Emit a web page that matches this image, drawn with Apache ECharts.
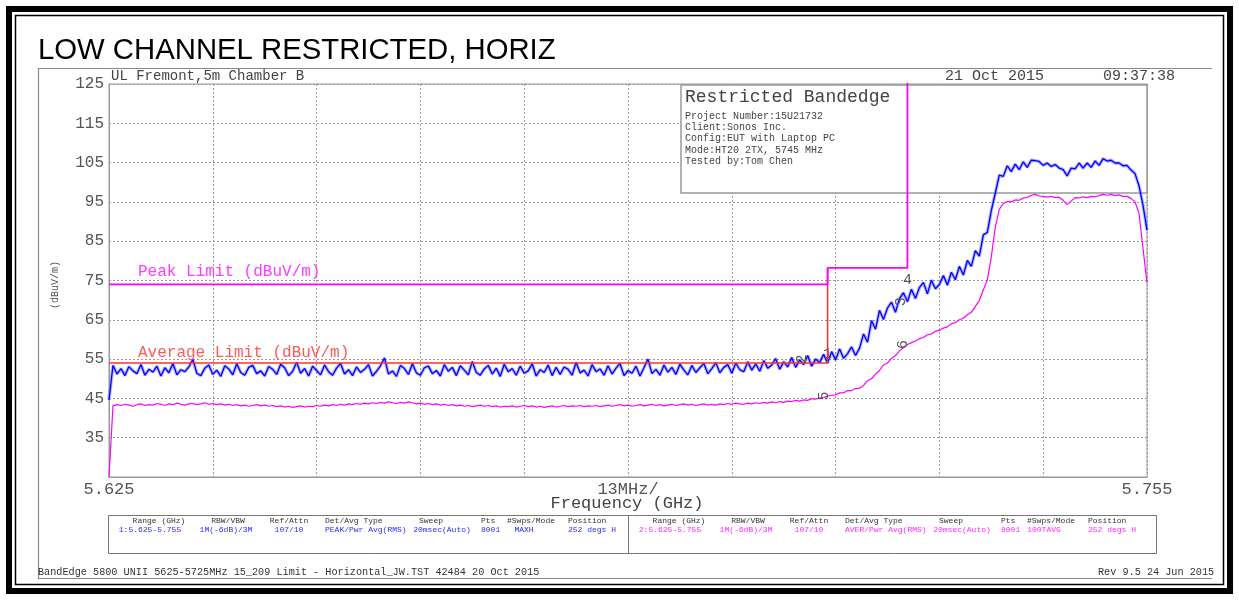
<!DOCTYPE html>
<html><head><meta charset="utf-8">
<script src="https://cdn.jsdelivr.net/npm/echarts@6/dist/echarts.min.js"></script>
<style>html,body{margin:0;padding:0;background:#fff}#c{width:1239px;height:600px}</style>
</head><body><div id="c"></div>
<script>
// ---------------- DATA ----------------
const FREQ_START_GHZ = 5.625;
const FREQ_STOP_GHZ = 5.755;
const FREQ_STEP_GHZ = 0.0005;   // sweep point spacing used for the traces below

// Trace 1: PEAK / MAXH (dBuV/m)
const PEAK_TRACE = [44.6,
53.4,51.2,52.6,50.8,53.1,52.0,51.3,53.6,50.9,52.4,51.7,53.2,50.7,52.8,51.5,53.9,51.0,52.3,51.8,53.0,
54.9,51.4,50.8,52.7,53.5,51.1,52.2,50.6,53.3,52.5,51.0,53.8,51.6,50.9,52.9,53.4,51.3,52.0,50.7,53.1,
52.4,51.1,53.7,52.8,50.8,51.9,54.2,51.4,52.6,50.7,53.2,52.1,51.0,53.5,51.8,50.9,52.7,53.9,51.2,52.3,
50.8,53.0,51.6,52.4,53.6,50.7,51.9,53.3,55.3,51.2,52.0,50.6,53.4,52.6,51.1,53.8,51.5,50.9,52.8,53.2,
51.3,52.1,50.7,53.6,51.9,52.9,50.8,53.3,52.2,51.0,54.4,51.6,50.9,52.5,53.4,51.2,52.7,50.6,53.7,51.8,
52.6,50.9,53.2,51.4,52.0,53.8,50.7,52.3,51.6,53.5,50.8,52.9,51.1,53.0,52.4,50.9,54.2,51.5,52.2,50.7,
53.6,51.8,52.5,50.9,53.3,51.2,52.7,53.9,50.8,52.1,51.4,53.2,50.7,52.8,55.0,51.3,52.4,50.9,53.5,51.7,
52.9,51.1,53.7,52.2,51.0,53.4,51.6,52.8,53.9,51.3,52.6,54.1,51.5,52.9,53.6,51.4,54.0,52.3,51.8,54.3,
52.2,53.8,51.9,54.6,52.7,53.5,55.1,52.4,54.3,53.0,55.4,52.9,54.8,53.6,55.9,53.2,55.0,54.1,56.2,54.0,
56.9,54.8,57.6,55.2,56.4,58.1,55.9,57.8,61.4,59.3,64.8,62.6,67.4,65.1,68.0,69.5,66.9,70.4,71.9,69.6,
72.8,70.4,73.2,74.5,71.6,75.1,72.9,74.0,76.3,73.8,77.1,75.2,78.6,76.4,80.1,78.6,82.6,81.2,86.6,87.2,
92.8,97.2,101.8,101.5,104.2,102.7,104.6,103.2,105.2,103.8,105.6,105.5,105.3,104.3,104.9,104.0,104.5,103.6,103.2,101.6,
103.6,103.4,104.9,103.6,104.9,103.8,105.4,104.3,106.0,105.4,105.6,104.9,104.9,104.2,104.3,103.1,102.2,99.1,94.2,87.8];

// Trace 2: AVER / 100TAVG (dBuV/m)
const AVG_TRACE = [25.0,
43.1,43.4,43.2,43.5,43.3,43.0,43.4,43.6,43.2,43.4,43.3,43.7,43.5,43.2,43.6,43.4,43.8,43.5,43.3,43.6,
43.7,43.4,43.6,43.9,43.5,43.7,43.4,43.6,43.3,43.5,43.2,43.4,43.1,43.3,43.0,43.2,43.4,43.1,43.3,43.0,
43.2,42.9,43.1,42.8,43.0,42.7,42.9,43.1,42.8,43.0,42.9,43.2,43.0,43.3,43.1,43.4,43.2,43.5,43.3,43.6,
43.4,43.7,43.5,43.8,43.6,43.9,43.7,44.0,43.8,44.1,43.9,43.7,44.0,43.8,44.1,43.9,43.6,43.8,43.5,43.7,
43.4,43.6,43.3,43.5,43.2,43.4,43.1,43.3,43.0,43.2,42.9,43.1,43.3,43.0,43.2,42.9,43.1,42.8,43.0,42.9,
43.1,42.8,43.0,43.2,42.9,43.1,42.8,43.0,42.7,42.9,43.1,42.8,43.0,43.2,42.9,43.1,43.0,43.2,42.9,43.1,
43.0,43.2,42.9,43.1,43.3,43.0,43.2,43.4,43.1,43.3,43.0,43.2,43.4,43.1,43.3,43.5,43.2,43.4,43.1,43.3,
43.5,43.2,43.4,43.6,43.3,43.5,43.2,43.4,43.6,43.3,43.5,43.3,43.6,43.4,43.7,43.5,43.8,43.6,43.5,43.8,
43.6,43.9,43.7,44.0,43.8,44.1,43.9,44.2,44.0,44.3,44.2,44.5,44.3,44.6,44.5,44.9,44.8,45.1,45.2,45.6,
45.8,45.9,46.4,46.4,47.0,47.0,47.5,47.6,48.3,49.5,50.0,51.2,52.1,53.5,54.0,55.2,55.9,57.1,57.9,58.7,
59.2,59.6,60.2,60.5,61.2,61.4,62.1,62.3,62.9,63.2,64.0,64.3,65.0,65.4,66.3,66.9,68.4,69.9,72.6,75.1,
81.0,88.6,93.1,94.6,95.1,95.0,95.5,95.4,96.0,96.1,96.7,96.9,96.5,96.4,96.2,96.4,96.1,96.2,95.4,94.3,
95.2,96.1,96.0,96.3,96.1,96.4,96.3,96.6,96.9,96.7,96.9,96.6,96.8,96.4,96.4,95.9,95.0,92.1,83.2,74.4];

// Limit lines: [frequency GHz, dBuV/m]
const PEAK_LIMIT = [[5.625,74],[5.715,74],[5.715,78.2],[5.725,78.2],[5.725,140],[5.755,140]];
const AVG_LIMIT = [[5.625,54],[5.715,54],[5.715,78.2]];

// Markers: trace, frequency (GHz), label
const MARKERS = [
  {trace:'peak', freq:5.7135, text:'2', rotate:90, dy:-14},
  {trace:'peak', freq:5.715,  text:'1', rotate:0,  dy:-9},
  {trace:'peak', freq:5.725,  text:'4', rotate:0,  dy:-22},
  {trace:'peak', freq:5.725,  text:'3', rotate:90, dy:-6},
  {trace:'avg',  freq:5.715,  text:'5', rotate:90, dy:-4},
  {trace:'avg',  freq:5.725,  text:'6', rotate:90, dy:-4}
];

const Y_MIN = 25, Y_MAX = 125, Y_STEP = 10;
const X_DIV_MHZ = 13;
const X_TICK_LABELS = ['5.625', '13MHz/', '5.755'];   // left, centre, right
const X_NAME = 'Frequency (GHz)';
const Y_NAME = '(dBuV/m)';

const TITLE = 'LOW CHANNEL RESTRICTED, HORIZ';
const SITE = 'UL Fremont,5m Chamber B';
const DATE = '21 Oct 2015';
const TIME = '09:37:38';
const INFO_TITLE = 'Restricted Bandedge';
const INFO_LINES = ['Project Number:15U21732','Client:Sonos Inc.','Config:EUT with Laptop PC','Mode:HT20 2TX, 5745 MHz','Tested by:Tom Chen'];
const PEAK_LIMIT_NAME = 'Peak Limit (dBuV/m)';
const AVG_LIMIT_NAME = 'Average Limit (dBuV/m)';
const TABLE_HEADERS = ['Range (GHz)','RBW/VBW','Ref/Attn','Det/Avg Type','Sweep','Pts','#Swps/Mode','Position'];
const TRACE1_SETTINGS = ['1:5.625-5.755','1M(-6dB)/3M','107/10','PEAK/Pwr Avg(RMS)','20msec(Auto)','8001','MAXH','252 degs H'];
const TRACE2_SETTINGS = ['2:5.625-5.755','1M(-6dB)/3M','107/10','AVER/Pwr Avg(RMS)','20msec(Auto)','8001','100TAVG','252 degs H'];
const FOOTER_LEFT = 'BandEdge 5800 UNII 5625-5725MHz 15_209 Limit - Horizontal_JW.TST 42484 20 Oct 2015';
const FOOTER_RIGHT = 'Rev 9.5 24 Jun 2015';

// ---------------- BUILD ----------------
const MONO = "'Liberation Mono','DejaVu Sans Mono',monospace";
const toAxis = f => Math.round((f - FREQ_START_GHZ) * 1e5) / 100; // MHz from start
const freqAt = i => FREQ_START_GHZ + i * FREQ_STEP_GHZ;
const peakData = PEAK_TRACE.map((v, i) => [toAxis(freqAt(i)), v]);
const avgData = AVG_TRACE.map((v, i) => [toAxis(freqAt(i)), v]);
const spanMHz = toAxis(FREQ_STOP_GHZ);

function markersFor(trace, arr) {
  return MARKERS.filter(m => m.trace === trace).map(m => {
    const idx = Math.round((m.freq - FREQ_START_GHZ) / FREQ_STEP_GHZ);
    return {coord: [toAxis(m.freq), arr[idx]],
      label: {show: true, formatter: m.text, rotate: m.rotate, offset: [0, m.dy],
              color: '#555', fontFamily: MONO, fontSize: 15}};
  });
}
const mpBase = {symbol: 'circle', symbolSize: 1, itemStyle: {color: 'rgba(0,0,0,0)'}, animation: false, silent: true};

function txt(x, y, text, size, color, align, extra) {
  return Object.assign({type: 'text', x: x, y: y, z: 10, silent: true,
    style: {text: text, font: size + 'px ' + MONO, fill: color, textAlign: align || 'left', textVerticalAlign: 'middle'}}, extra || {});
}

const graphics = [
  {type:'rect', z: 0, silent:true, shape:{x:9,y:9,width:1221,height:582}, style:{fill:'none', stroke:'#000', lineWidth:6}},
  {type:'rect', z: 0, silent:true, shape:{x:15.5,y:15.5,width:1208,height:569}, style:{fill:'none', stroke:'#000', lineWidth:1.5}},
  {type:'polyline', z: 0, silent:true, shape:{points:[[1212,68.5],[38.5,68.5],[38.5,578.5],[1212,578.5]]}, style:{fill:'none', stroke:'#888', lineWidth:1.2}},
  {type:'text', x:38, y:51, z:10, silent:true, style:{text:TITLE, font:"29.3px 'Liberation Sans',Arial,sans-serif", fill:'#000', textVerticalAlign:'middle'}},
  txt(111, 76, SITE, 14, '#444'),
  txt(945, 76, DATE, 15, '#444'),
  txt(1175, 76, TIME, 15, '#444', 'right'),
  txt(627, 503, X_NAME, 17, '#444', 'center'),
  txt(55, 285, Y_NAME, 10, '#555', 'center', {rotation: Math.PI / 2}),
  // info box
  {type:'rect', z: 1, silent:true, shape:{x:681,y:85,width:466,height:108}, style:{fill:'#fff', stroke:'#999', lineWidth:1.5}},
  txt(685, 97, INFO_TITLE, 18, '#444'),
  // limit names
  txt(138, 272, PEAK_LIMIT_NAME, 16, '#ff3cff'),
  txt(138, 353, AVG_LIMIT_NAME, 16, '#ff5a5a'),
  // settings table
  {type:'rect', z: 1, silent:true, shape:{x:108.5,y:515.5,width:1048,height:38}, style:{fill:'none', stroke:'#777', lineWidth:1}},
  {type:'line', z: 1, silent:true, shape:{x1:628.5,y1:515.5,x2:628.5,y2:553.5}, style:{stroke:'#777', lineWidth:1}},
  txt(38, 572, FOOTER_LEFT, 10.2, '#333'),
  txt(1098, 572, FOOTER_RIGHT, 10.2, '#333')
];
INFO_LINES.forEach((t, k) => graphics.push(txt(685, 116 + k * 11.3, t, 10, '#444')));
const HDR_X = [159, 228, 289, 325, 431, 481, 531, 568];
const VAL_X = [150, 226, 289, 325, 442, 481, 524, 568];
const ALIGN = ['center','center','center','left','center','left','center','left'];
TABLE_HEADERS.forEach((h, k) => {
  graphics.push(txt(HDR_X[k], 521, h, 8, '#333', ALIGN[k]));
  graphics.push(txt(HDR_X[k] + 520, 521, h, 8, '#333', ALIGN[k]));
});
TRACE1_SETTINGS.forEach((v, k) => graphics.push(txt(VAL_X[k], 529.5, v, 8, '#2a2aff', ALIGN[k])));
TRACE2_SETTINGS.forEach((v, k) => graphics.push(txt(VAL_X[k] + 520, 529.5, v, 8, '#ff2aff', ALIGN[k])));

const option = {
  animation: false,
  backgroundColor: '#fff',
  grid: {left: 109, right: 92, top: 84, bottom: 123, show: true, borderColor: '#999', borderWidth: 1, backgroundColor: 'transparent'},
  xAxis: {
    type: 'value', min: 0, max: spanMHz, interval: X_DIV_MHZ,
    axisLine: {show: true, lineStyle: {color: '#999', width: 1}},
    axisTick: {show: false},
    axisLabel: {margin: 4, fontFamily: MONO, fontSize: 17, color: '#555', showMinLabel: true, showMaxLabel: true,
      formatter: v => {
        if (Math.abs(v) < 1e-6) return X_TICK_LABELS[0];
        if (Math.abs(v - spanMHz / 2) < 1e-6) return X_TICK_LABELS[1];
        if (Math.abs(v - spanMHz) < 1e-6) return X_TICK_LABELS[2];
        return '';
      }},
    splitLine: {show: true, lineStyle: {color: '#999', type: [2, 2], width: 1}}
  },
  yAxis: {
    type: 'value', min: Y_MIN, max: Y_MAX, interval: Y_STEP,
    axisLine: {show: true, lineStyle: {color: '#999', width: 1}},
    axisTick: {show: false},
    axisLabel: {margin: 5, fontFamily: MONO, fontSize: 16, color: '#555',
      formatter: v => (Math.abs(v - Y_MIN) < 1e-6 ? '' : String(Math.round(v)))},
    splitLine: {show: true, lineStyle: {color: '#999', type: [2, 2], width: 1}}
  },
  graphic: graphics,
  series: [
    {type: 'line', name: 'avg', data: avgData, showSymbol: false, symbol: 'none', z: 3,
     lineStyle: {color: '#ff00ff', width: 1.2},
     markPoint: Object.assign({data: markersFor('avg', AVG_TRACE)}, mpBase)},
    {type: 'line', name: 'peakHalo', data: peakData, showSymbol: false, symbol: 'none', z: 3,
     lineStyle: {color: 'rgba(110,110,255,0.5)', width: 3.4}},
    {type: 'line', name: 'peak', data: peakData, showSymbol: false, symbol: 'none', z: 4,
     lineStyle: {color: '#0000ff', width: 1.3},
     markPoint: Object.assign({data: markersFor('peak', PEAK_TRACE)}, mpBase)},
    {type: 'line', name: 'avgLimit', data: AVG_LIMIT.map(p => [toAxis(p[0]), p[1]]), showSymbol: false, symbol: 'none', z: 5,
     lineStyle: {color: '#ff3030', width: 1.5}},
    {type: 'line', name: 'peakLimit', data: PEAK_LIMIT.map(p => [toAxis(p[0]), p[1]]), showSymbol: false, symbol: 'none', z: 5, clip: true,
     lineStyle: {color: '#ff00ff', width: 1.8}}
  ]
};
const chart = echarts.init(document.getElementById('c'), null, {renderer: 'canvas'});
chart.setOption(option);
</script>
</body></html>
